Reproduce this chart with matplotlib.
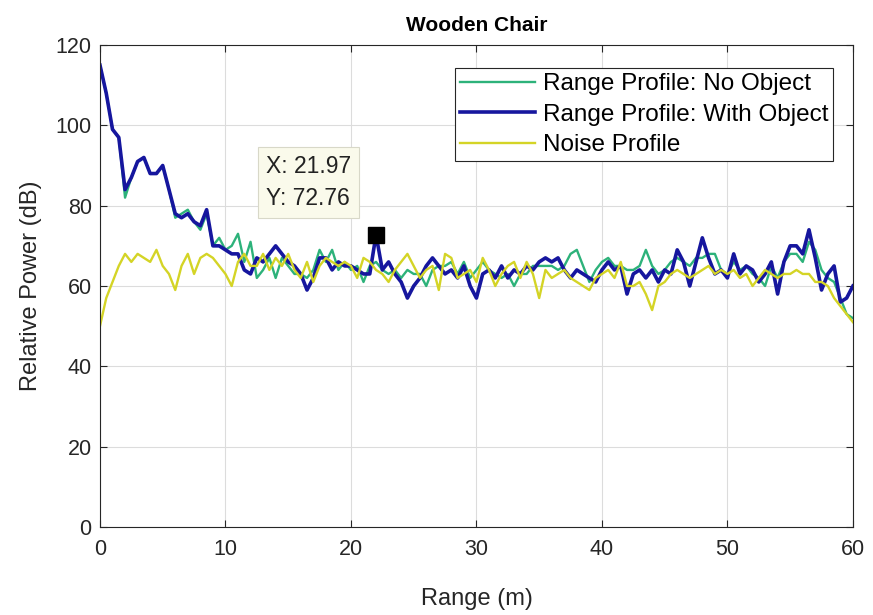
import numpy as np
import matplotlib
matplotlib.use("Agg")
import matplotlib.pyplot as plt

plt.rcParams['font.family'] = ['Liberation Sans', 'DejaVu Sans']

range_m = np.arange(0, 60.01, 0.5)

with_object = [
    115, 108, 99, 97, 84, 87, 91, 92, 88, 88, 90, 84, 78, 77, 78, 76, 75, 79, 70, 70, 69,
    68, 68, 64, 63, 67, 66, 68, 70, 68, 66, 65, 63, 59, 62, 67, 67, 64, 66, 65, 65,
    64, 63, 63, 72.76, 64, 66, 63, 61, 57, 60, 62, 65, 67, 65, 63, 64, 62, 65, 60, 57,
    63, 64, 62, 65, 62, 64, 63, 65, 64, 66, 67, 66, 67, 64, 62, 64, 63, 62, 61, 64,
    66, 64, 65, 58, 63, 64, 62, 64, 61, 64, 63, 69, 66, 60, 66, 72, 67, 63, 64, 62,
    68, 63, 65, 64, 61, 63, 66, 58, 66, 70, 70, 68, 74, 67, 59, 63, 65, 56, 57, 60,
]

no_object = [
    115, 108, 99, 97, 82, 87, 91, 92, 88, 88, 90, 84, 77, 78, 79, 76, 74, 78, 70, 72, 69,
    70, 73, 66, 71, 62, 64, 67, 62, 67, 65, 63, 63, 62, 64, 69, 66, 69, 64, 66, 64,
    65, 61, 65, 66, 64, 63, 64, 62, 64, 63, 63, 60, 64, 65, 65, 66, 63, 66, 62, 64,
    66, 64, 63, 62, 63, 60, 63, 63, 65, 65, 65, 65, 64, 65, 68, 69, 65, 61, 64, 66,
    67, 65, 65, 64, 64, 65, 69, 65, 63, 64, 66, 67, 66, 65, 67, 67, 68, 68, 64, 63,
    66, 64, 65, 63, 62, 60, 65, 62, 66, 68, 68, 66, 71, 69, 64, 62, 61, 57, 53, 52,
]

noise = [
    50, 57, 61, 65, 68, 66, 68, 67, 66, 69, 65, 63, 59, 65, 68, 63, 67, 68, 67, 65, 63,
    60, 66, 68, 65, 65, 68, 64, 67, 65, 68, 64, 62, 66, 61, 65, 67, 66, 65, 66, 65,
    62, 67, 66, 64, 63, 61, 64, 66, 68, 65, 62, 64, 65, 59, 68, 67, 62, 63, 64, 61,
    67, 64, 60, 63, 65, 66, 62, 66, 63, 57, 64, 62, 63, 64, 62, 61, 60, 59, 62, 63,
    64, 62, 66, 60, 60, 61, 58, 54, 60, 61, 63, 64, 63, 62, 63, 64, 65, 63, 64, 63,
    64, 62, 63, 60, 62, 64, 63, 62, 63, 63, 64, 63, 63, 61, 61, 60, 57, 55, 53, 51,
]

tip_x = 21.97
tip_y = 72.76

series_labels = ["Range Profile: No Object", "Range Profile: With Object", "Noise Profile"]

fig = plt.figure(figsize=(8.73, 6.15), dpi=100)
ax = fig.add_axes([0.1145, 0.1431, 0.8625, 0.7837])

ax.plot(range_m, no_object, color="#2db27a", lw=1.7, label=series_labels[0])
ax.plot(range_m, with_object, color="#16169e", lw=2.6, label=series_labels[1])
ax.plot(range_m, noise, color="#d4d426", lw=1.7, label=series_labels[2])

ax.plot([tip_x], [tip_y], marker="s", ms=11.5, color="black", ls="none", zorder=5)
ax.annotate(f"X: {tip_x:.2f}\nY: {tip_y:.2f}", xy=(tip_x, tip_y), xytext=(-110, 25),
            textcoords="offset pixels", fontsize=16.5, color="#222222",
            linespacing=1.5, va="bottom", ha="left",
            bbox=dict(boxstyle="square,pad=0.35", fc="#fafaeb", ec="#d8d8c8", lw=0.8),
            zorder=6)

ax.set_xlim(0, 60)
ax.set_ylim(0, 120)
ax.set_xticks(np.arange(0, 61, 10))
ax.set_yticks(np.arange(0, 121, 20))
ax.grid(True, color="#dcdcdc", lw=0.8)
ax.set_axisbelow(True)
ax.tick_params(direction="in", length=5, labelsize=15.5, colors="#262626",
               top=True, right=True, pad=6)
ax.tick_params(axis="x", pad=9)
for s in ax.spines.values():
    s.set_color("#262626")
    s.set_linewidth(0.8)

ax.set_xlabel("Range (m)", fontsize=17, color="#262626", labelpad=20)
ax.set_ylabel("Relative Power (dB)", fontsize=17, color="#262626", labelpad=10)
ax.set_title("Wooden Chair", fontsize=15, fontweight="bold", pad=10)

leg = ax.legend(loc="upper right", fontsize=17.5, handlelength=3.1, handletextpad=0.3,
                labelspacing=0.35, borderpad=0.2, fancybox=False,
                edgecolor="#262626", framealpha=1, bbox_to_anchor=(0.9734, 0.952),
                borderaxespad=0)
leg.get_frame().set_linewidth(0.8)

fig.savefig("out.png", dpi=100)
